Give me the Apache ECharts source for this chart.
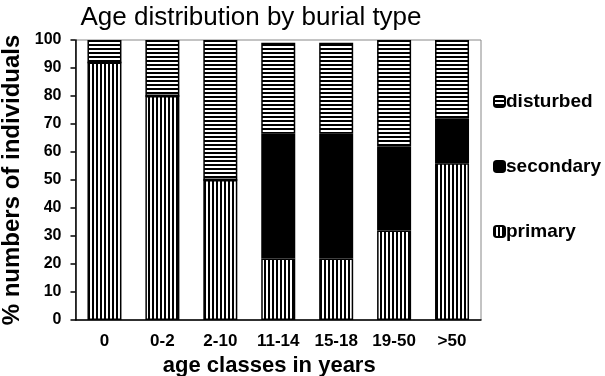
<!DOCTYPE html>
<html>
<head>
<meta charset="utf-8">
<script src="https://cdn.jsdelivr.net/npm/echarts@6/dist/echarts.min.js"></script>
<style>
  html, body { margin: 0; padding: 0; background: #fff; }
  #chart { width: 605px; height: 376px; }
</style>
</head>
<body>
<div id="chart"></div>
<script>
var ageClasses = ["0", "0-2", "2-10", "11-14", "15-18", "19-50", ">50"];
var primary = [92, 80, 50, 22, 22, 32, 56];
var secondary = [0, 0, 0, 44.5, 44.5, 30, 16];
var disturbed = [8, 20, 50, 32.5, 32.5, 38, 28];
var yTicks = [0, 10, 20, 30, 40, 50, 60, 70, 80, 90, 100];

// little stripe tiles for the fills
function stripes(vertical) {
  var c = document.createElement("canvas");
  c.width = 4;
  c.height = 4;
  var ctx = c.getContext("2d");
  ctx.fillStyle = "#fff";
  ctx.fillRect(0, 0, 4, 4);
  ctx.fillStyle = "#000";
  if (vertical) ctx.fillRect(0, 0, 2, 4);
  else ctx.fillRect(0, 0, 4, 2);
  return c;
}

var font = "Liberation Sans, Arial, sans-serif";
var myChart = echarts.init(document.getElementById("chart"));

function bar(name, data, color) {
  return {
    name: name,
    type: "bar",
    stack: "all",
    barWidth: 34,
    data: data,
    itemStyle: { color: color, borderColor: "#000", borderWidth: 1.5 },
  };
}

var option = {
  animation: false,
  backgroundColor: "#fff",
  title: {
    text: "Age distribution by burial type",
    left: 246,
    textAlign: "center",
    top: 0,
    textStyle: { fontFamily: font, fontSize: 26, fontWeight: "normal", color: "#000" },
  },
  legend: {
    orient: "vertical",
    left: 488,
    top: 87,
    itemWidth: 11,
    itemHeight: 11,
    itemGap: 46,
    data: ["disturbed", "secondary", "primary"],
    textStyle: { fontFamily: font, fontSize: 19, fontWeight: "bold", color: "#000", lineHeight: 19, padding: [0, 0, 0, -4] },
  },
  grid: {
    left: 75.5,
    right: 124,
    top: 40,
    bottom: 56,
    outerBoundsMode: "none",
    containLabel: false,
    show: true,
    borderColor: "#888",
    borderWidth: 1,
  },
  xAxis: {
    type: "category",
    data: ageClasses,
    name: "age classes in years",
    nameLocation: "middle",
    nameGap: 33,
    nameTextStyle: { fontFamily: font, fontSize: 22, fontWeight: "bold", color: "#000", padding: [0, 18, 0, 0] },
    axisLine: { lineStyle: { color: "#000", width: 1.5 } },
    axisTick: { length: 5, lineStyle: { color: "#000", width: 1.5 } },
    axisLabel: { margin: 13, fontFamily: font, fontSize: 17, fontWeight: "bold", color: "#000" },
  },
  yAxis: {
    type: "value",
    min: yTicks[0],
    max: yTicks[yTicks.length - 1],
    interval: 10,
    name: "% numbers of individuals",
    nameLocation: "middle",
    nameGap: 50,
    nameTextStyle: { fontFamily: font, fontSize: 24, fontWeight: "bold", color: "#000" },
    axisLine: { show: true, lineStyle: { color: "#000", width: 1.5 } },
    axisTick: { show: true, length: 5, lineStyle: { color: "#000", width: 1.5 } },
    axisLabel: { margin: 14, fontFamily: font, fontSize: 16, fontWeight: "bold", color: "#000" },
    splitLine: { show: false },
  },
  series: [
    bar("primary", primary, { image: stripes(true), repeat: "repeat" }),
    bar("secondary", secondary, "#000"),
    bar("disturbed", disturbed, { image: stripes(false), repeat: "repeat" }),
  ],
};
myChart.setOption(option);
</script>
</body>
</html>
